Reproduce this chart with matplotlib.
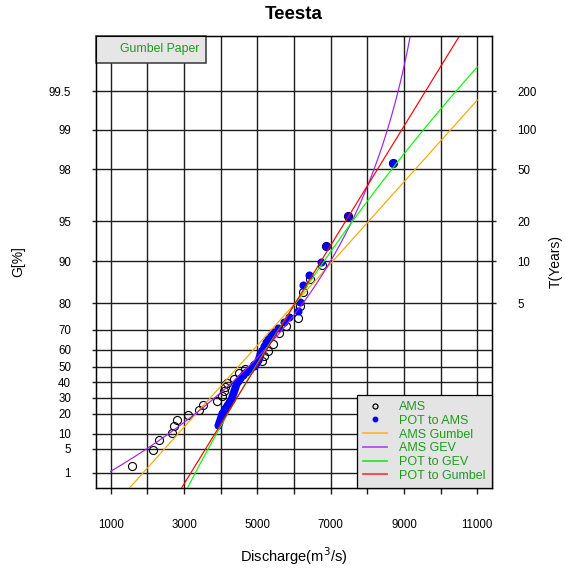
import numpy as np
import matplotlib
matplotlib.use("Agg")
import matplotlib.pyplot as plt
from matplotlib.lines import Line2D
from matplotlib.patches import Rectangle

plt.rcParams['font.family'] = ['Liberation Sans', 'DejaVu Sans']

# ---------------- data ----------------
ams_q = [1581, 2154, 2318, 2672, 2727, 2809, 3109, 3409, 3518, 3900, 4036, 4091,
         4118, 4173, 4364, 4500, 4664, 4909, 5127, 5182, 5291, 5428, 5591, 5782,
         6109, 6164, 6246, 6437, 6765, 6874, 7474, 8701]
ams_g = [1.7, 4.6, 7.7, 10.4, 13.5, 16.6, 19.4, 22.3, 25.3, 27.9, 31.1, 34.3,
         37.0, 39.6, 42.2, 46.1, 48.6, 51.1, 53.5, 56.4, 59.3, 63.0, 68.5, 71.6,
         74.8, 79.1, 83.4, 86.6, 89.4, 92.3, 95.4, 98.2]

pot_q = [3927, 3954, 3982, 4009, 4036, 4091, 4118, 4173, 4227, 4282, 4309, 4336,
         4364, 4391, 4418, 4473, 4527, 4609, 4691, 4800, 4909, 4964, 5018, 5046,
         5073, 5127, 5182, 5237, 5291, 5373, 5428, 5564, 5728, 5864, 6109, 6164,
         6246, 6409, 6737, 6874, 7474, 8701]
pot_g = [14.0, 15.6, 17.2, 18.8, 20.5, 22.3, 23.5, 25.3, 27.2, 29.1, 31.1, 33.0,
         35.0, 37.0, 38.9, 40.9, 42.8, 44.8, 46.7, 48.6, 50.5, 52.3, 54.1, 55.9,
         57.6, 59.8, 62.0, 64.1, 65.6, 67.5, 68.9, 70.7, 73.3, 75.2, 77.4, 80.4,
         85.2, 87.4, 89.9, 92.3, 95.4, 98.2]

# fitted distribution parameters (location, scale, shape)
ams_gumbel = (3975, 1368)
ams_gev = (4164, 1694, -0.28)
pot_gev = (4613, 901, 0.072)
pot_gumbel = (4621, 938)

g_ticks = [1, 5, 10, 20, 30, 40, 50, 60, 70, 80, 90, 95, 98, 99, 99.5]
g_labels = ["1", "5", "10", "20", "30", "40", "50", "60", "70", "80", "90",
            "95", "98", "99", "99.5"]
t_ticks = [5, 10, 20, 50, 100, 200]
x_ticks = list(range(1000, 11001, 1000))
x_labels = ["1000", "", "3000", "", "5000", "", "7000", "", "9000", "", "11000"]

# ---------------- helpers ----------------
def red_var(g_percent):
    p = np.asarray(g_percent, dtype=float) / 100.0
    return -np.log(-np.log(p))

q_grid = np.linspace(1000, 11000, 600)

def gumbel_u(q, par):
    mu, beta = par
    return (q - mu) / beta

def gev_u(q, par):
    mu, s, xi = par
    arg = 1 + xi * (q - mu) / s
    u = np.full_like(q, np.nan)
    ok = arg > 0
    u[ok] = np.log(arg[ok]) / xi
    return u

GREEN_TXT = '#1f9a1f'
GRID = '#1e1e1e'

fig = plt.figure(figsize=(5.65, 5.69), dpi=100)
ax = fig.add_axes([96 / 565, 1 - 488 / 569, 396 / 565, 452 / 569])

ax.set_xlim(600, 11400)
ax.set_ylim(-1.80, 6.28)

# points
ax.plot(ams_q, red_var(ams_g), ls='none', marker='o', mfc='none', mec='black',
        mew=0.8, ms=5.8, zorder=3)
ax.plot(pot_q, red_var(pot_g), ls='none', marker='o', mfc='#0000ff', mec='#0000ff',
        ms=4.8, zorder=4)

# fitted curves
lw = 0.85
ax.plot(q_grid, gumbel_u(q_grid, ams_gumbel), color='#FFA500', lw=lw, zorder=5)
ax.plot(q_grid, gev_u(q_grid, ams_gev), color='#A020F0', lw=lw, zorder=5)
ax.plot(q_grid, gev_u(q_grid, pot_gev), color='#00FF00', lw=lw, zorder=5)
ax.plot(q_grid, gumbel_u(q_grid, pot_gumbel), color='#FF0000', lw=lw, zorder=5)

# axes / grid
ax.set_xticks(x_ticks)
ax.set_xticklabels(x_labels)
ax.set_yticks(red_var(g_ticks))
ax.set_yticklabels(g_labels)
ax.grid(True, color=GRID, lw=1.0, zorder=1)
ax.tick_params(axis='x', length=4, width=1.0, color=GRID, pad=18, labelsize=8.3)
ax.tick_params(axis='y', length=3, width=1.0, color=GRID, pad=15, labelsize=8.3)
for sp in ax.spines.values():
    sp.set_linewidth(1.0)

axr = ax.twinx()
axr.set_ylim(ax.get_ylim())
axr.set_yticks(red_var([100 * (1 - 1 / t) for t in t_ticks]))
axr.set_yticklabels([str(t) for t in t_ticks])
axr.tick_params(axis='y', length=3, width=1.0, color=GRID, pad=15, labelsize=8.3)

ax.set_title('Teesta', fontsize=13.5, fontweight='bold', pad=12)
ax.set_xlabel('Discharge(m$^3$/s)', fontsize=10.5)
ax.xaxis.set_label_coords(0.5, -0.150)
ax.xaxis.label.set_va('center')
ax.set_ylabel('G[%]', fontsize=10)
ax.yaxis.set_label_coords(-0.197, 0.5)
ax.yaxis.label.set_va('center')
axr.set_ylabel('T(Years)', fontsize=10)
axr.yaxis.set_label_coords(1.162, 0.5)
axr.yaxis.label.set_va('center')

# "Gumbel Paper" box
bw, bh = (206 - 96) / 396, (62.7 - 36) / 452
ax.add_patch(Rectangle((0, 1 - bh), bw, bh, transform=ax.transAxes,
                       facecolor='#e6e6e6', edgecolor='#444444', lw=1.2,
                       zorder=6, clip_on=False))
ax.text(0.162, 1 - bh / 2, 'Gumbel Paper', transform=ax.transAxes, ha='center',
        va='center', color=GREEN_TXT, fontsize=8.8, zorder=7)

# legend
hlw = 1.3
handles = [
    Line2D([], [], ls='none', marker='o', mfc='none', mec='black', mew=0.9, ms=3.6),
    Line2D([], [], ls='none', marker='o', mfc='#0000ff', mec='#0000ff', ms=3.2),
    Line2D([], [], color='#FFB733', lw=hlw),
    Line2D([], [], color='#B050F0', lw=hlw),
    Line2D([], [], color='#22EE22', lw=hlw),
    Line2D([], [], color='#FF4040', lw=hlw),
]
labels = ['AMS', 'POT to AMS', 'AMS Gumbel', 'AMS GEV', 'POT to GEV', 'POT to Gumbel']
leg = ax.legend(handles, labels, loc='lower right', bbox_to_anchor=(1, 0),
                borderaxespad=0, fancybox=False, facecolor='#e4e4e4',
                edgecolor='black', framealpha=1, fontsize=9, labelcolor=GREEN_TXT,
                handlelength=1.95, handletextpad=0.95, labelspacing=0.14,
                borderpad=0.5)
leg.get_frame().set_linewidth(0.9)
leg.set_zorder(8)

fig.savefig('out.png', dpi=100)
